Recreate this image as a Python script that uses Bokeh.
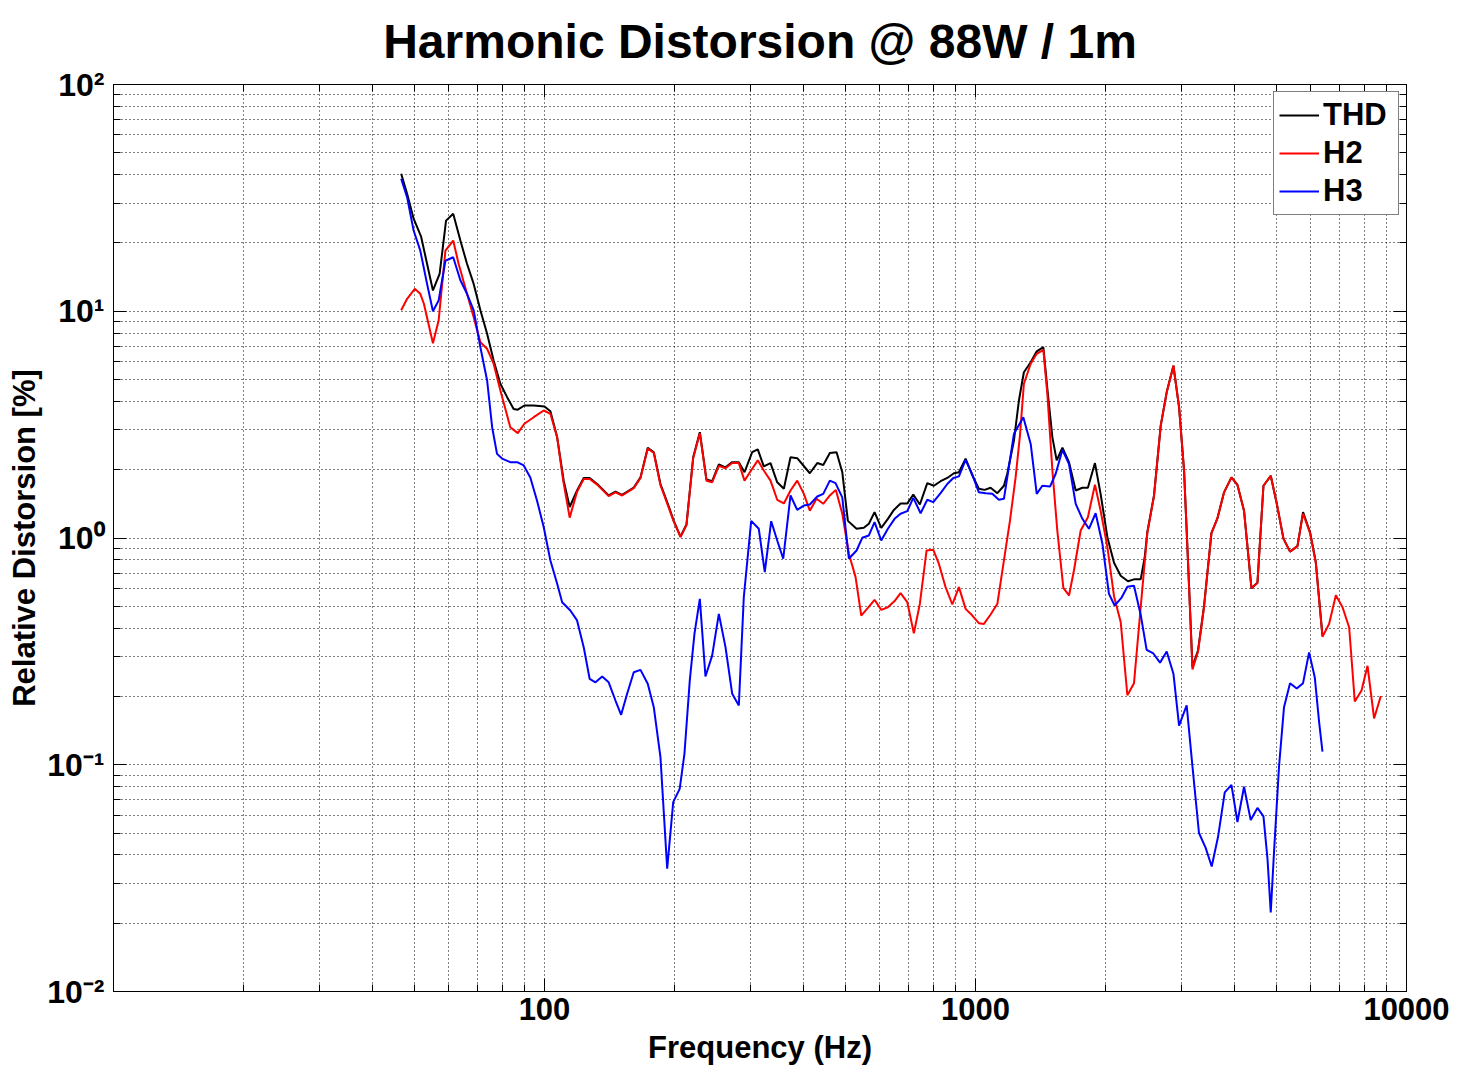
from bokeh.plotting import figure
from bokeh.models import FixedTicker, LogAxis, CustomJSTickFormatter, Legend, LegendItem
from bokeh.embed import file_html
from bokeh.resources import INLINE

# ---------------- data (frequency in Hz, distortion in %) ----------------
thd_freq = [46.5, 48.0, 49.7, 51.7, 55.1, 57.1, 59.1, 61.4, 63.8, 66.1,
            68.5, 71.0, 73.6, 76.2, 79.0, 81.9, 84.8, 86.7, 89.8, 94.4,
            100, 103.2, 107, 110.8, 114.4, 119, 123.3, 127.3, 132.5, 140.9,
            146.1, 151.4, 161.1, 167, 173.6, 179.3, 185.8, 192.6, 199.5, 206.8,
            213.5, 221.3, 229.3, 237.6, 244.9, 253.8, 263, 272.6, 282.4, 291.1,
            303.3, 312.5, 322.7, 334.5, 346.7, 359.2, 372.2, 385.8, 412.7, 429.4,
            443.4, 459.2, 476.1, 490.8, 505.7, 529.7, 550.7, 565.7, 583.2, 604.4,
            626.2, 646.6, 670.1, 694.6, 717.2, 742.9, 772.9, 800.6, 829.8, 860.1,
            891.2, 915.3, 948.5, 983.1, 1018, 1050, 1084, 1124, 1164, 1185,
            1228, 1261, 1295, 1343, 1387, 1437, 1468, 1508, 1543, 1591,
            1648, 1708, 1770, 1823, 1893, 1951, 2023, 2096, 2172, 2258,
            2332, 2417, 2469, 2504, 2595, 2690, 2777, 2879, 2967, 3047,
            3113, 3187, 3284, 3390, 3527, 3641, 3773, 3925, 4053, 4198,
            4368, 4510, 4657, 4842, 5000, 5182, 5368, 5585, 5754, 5974,
            6159, 6383]
thd_pct = [40.4, 33.0, 25.6, 21.4, 12.35, 14.6, 25.1, 26.9, 20.5, 16.2,
           13.2, 10.1, 7.95, 6.07, 4.79, 4.18, 3.71, 3.68, 3.84, 3.84,
           3.80, 3.62, 2.78, 1.79, 1.37, 1.62, 1.84, 1.84, 1.73, 1.54,
           1.60, 1.55, 1.67, 1.85, 2.50, 2.39, 1.73, 1.44, 1.19, 1.015,
           1.147, 2.27, 2.93, 1.81, 1.78, 2.11, 2.05, 2.16, 2.16, 1.95,
           2.39, 2.46, 2.07, 2.14, 1.76, 1.65, 2.27, 2.25, 1.93, 2.14,
           2.10, 2.37, 2.39, 1.95, 1.19, 1.098, 1.109, 1.155, 1.30, 1.109,
           1.215, 1.33, 1.42, 1.42, 1.555, 1.405, 1.745, 1.70, 1.78, 1.84,
           1.93, 1.95, 2.24, 1.89, 1.65, 1.63, 1.665, 1.576, 1.70, 1.92,
           2.69, 4.04, 5.38, 5.96, 6.66, 6.94, 4.55, 2.78, 2.20, 2.50,
           2.16, 1.62, 1.665, 1.665, 2.14, 1.566, 1.008, 0.778, 0.682, 0.645,
           0.657, 0.657, 0.82, 1.06, 1.54, 3.13, 4.39, 5.75, 3.78, 1.99,
           0.78, 0.27, 0.32, 0.50, 1.05, 1.22, 1.59, 1.85, 1.715, 1.32,
           0.60, 0.635, 1.70, 1.88, 1.42, 0.994, 0.871, 0.921, 1.30, 1.06,
           0.785, 0.37]

h2_freq = [46.5, 48.0, 50.0, 51.5, 52.5, 55.1, 56.8, 58.9, 61.4, 63.2,
           66.1, 68.5, 71.0, 73.6, 76.2, 79.0, 83.3, 86.7, 89.8, 94.4,
           99.6, 103.2, 107, 110.5, 114.4, 119, 123.3, 127.3, 132.5, 140.9,
           146.1, 151.4, 161.1, 167, 173.6, 179.3, 185.8, 192.6, 199.5, 206.8,
           213.5, 221.3, 229.3, 237.6, 244.9, 253.8, 263, 272.6, 282.4, 291.1,
           303.3, 312.5, 322.7, 334.5, 346.7, 359.2, 372.2, 385.8, 399.7, 412.7,
           427.8, 443.4, 459.2, 474.3, 490.8, 508.4, 526.9, 543.2, 562.8, 583.2,
           604.4, 626.2, 649, 670.1, 694.6, 719.5, 742.9, 770, 798.1, 822.2,
           852.3, 883.5, 915.3, 948.5, 983.1, 1018, 1046, 1084, 1124, 1164,
           1202, 1239, 1268, 1295, 1343, 1387, 1437, 1468, 1508, 1548,
           1599, 1648, 1692, 1754, 1823, 1893, 1951, 2023, 2096, 2172,
           2251, 2332, 2417, 2504, 2595, 2690, 2777, 2879, 2967, 3047,
           3113, 3187, 3284, 3390, 3527, 3641, 3773, 3925, 4053, 4198,
           4368, 4510, 4657, 4842, 5000, 5182, 5368, 5585, 5754, 5974,
           6159, 6383, 6613, 6856, 7105, 7362, 7586, 7864, 8120, 8410, 8718]
h2_pct = [10.1, 11.35, 12.56, 11.94, 10.79, 7.23, 9.10, 18.5, 20.5, 16.2,
          11.94, 9.41, 7.30, 6.83, 5.87, 4.47, 3.08, 2.90, 3.19, 3.41,
          3.65, 3.53, 2.78, 1.79, 1.23, 1.60, 1.82, 1.82, 1.72, 1.53,
          1.59, 1.54, 1.66, 1.84, 2.48, 2.37, 1.71, 1.42, 1.18, 1.01,
          1.14, 2.25, 2.90, 1.79, 1.76, 2.08, 2.03, 2.14, 2.14, 1.79,
          2.02, 2.20, 1.985, 1.79, 1.474, 1.42, 1.62, 1.79, 1.566, 1.32,
          1.49, 1.415, 1.54, 1.63, 1.28, 0.852, 0.672, 0.455, 0.492, 0.534,
          0.482, 0.495, 0.527, 0.571, 0.521, 0.380, 0.513, 0.881, 0.887, 0.770,
          0.607, 0.509, 0.607, 0.487, 0.455, 0.421, 0.418, 0.460, 0.513, 0.796,
          1.19, 1.85, 2.83, 4.79, 5.87, 6.49, 6.76, 4.32, 1.985, 1.079,
          0.603, 0.558, 0.719, 1.079, 1.235, 1.72, 1.32, 0.911, 0.554, 0.426,
          0.2025, 0.229, 0.495, 1.051, 1.53, 3.13, 4.39, 5.75, 3.78, 1.99,
          0.778, 0.263, 0.316, 0.495, 1.051, 1.22, 1.59, 1.85, 1.715, 1.317,
          0.602, 0.633, 1.70, 1.88, 1.42, 0.994, 0.871, 0.921, 1.28, 1.051,
          0.778, 0.367, 0.418, 0.559, 0.495, 0.403, 0.190, 0.2126, 0.273, 0.160, 0.201]

h3_freq = [46.5, 48.0, 49.7, 51.5, 53.4, 55.1, 56.8, 58.9, 61.4, 63.8,
           66.1, 68.5, 71.0, 73.6, 75.6, 77.6, 79.7, 83.3, 86.4, 89.5,
           92.7, 96.1, 99.6, 103.2, 107, 109.9, 114.8, 119, 123.3, 127.3,
           131.3, 136.1, 140.9, 146.1, 150.6, 155.5, 161.1, 167, 173.6, 179.3,
           185.8, 192.6, 198.9, 205.9, 211.2, 217.3, 222.8, 229.3, 236.3, 244.9,
           253.8, 263, 272.6, 282.4, 290, 301.7, 314.2, 324.4, 335.7, 346.7,
           358, 372.2, 385.8, 399.7, 412.7, 429.4, 443.4, 459.2, 473.4, 490.8,
           508.4, 529.7, 546.1, 565.7, 583.2, 604.4, 626.2, 649, 670.1, 694.6,
           717.2, 745.8, 772.9, 798.1, 829.8, 860.1, 888.3, 915.3, 948.5, 983.1,
           1018, 1056, 1094, 1133, 1164, 1185, 1228, 1291, 1343, 1387,
           1429, 1489, 1535, 1591, 1648, 1708, 1770, 1833, 1900, 1970,
           2040, 2103, 2180, 2251, 2332, 2417, 2495, 2586, 2680, 2777,
           2879, 2967, 3090, 3187, 3300, 3420, 3532, 3654, 3787, 3925,
           4053, 4198, 4351, 4510, 4657, 4759, 4842, 4928, 5061, 5198,
           5368, 5563, 5754, 5943, 6127, 6270, 6383]
h3_pct = [38.4, 31.8, 22.7, 18.5, 13.2, 10.0, 11.15, 16.7, 17.3, 13.7,
          11.94, 10.08, 6.94, 4.95, 3.08, 2.35, 2.24, 2.16, 2.16, 2.09,
          1.85, 1.46, 1.116, 0.796, 0.628, 0.521, 0.479, 0.433, 0.330, 0.239,
          0.231, 0.245, 0.231, 0.192, 0.166, 0.2055, 0.256, 0.262, 0.2275, 0.1794,
          0.108, 0.0348, 0.0684, 0.0783, 0.1118, 0.235, 0.378, 0.539, 0.245, 0.303,
          0.463, 0.330, 0.2055, 0.1826, 0.548, 1.19, 1.098, 0.707, 1.186, 0.975,
          0.81, 1.54, 1.33, 1.39, 1.405, 1.524, 1.566, 1.79, 1.745, 1.51,
          0.81, 0.881, 1.002, 1.026, 1.174, 0.975, 1.098, 1.215, 1.28, 1.313,
          1.504, 1.286, 1.474, 1.44, 1.576, 1.73, 1.84, 1.87, 2.21, 1.905,
          1.59, 1.576, 1.566, 1.474, 1.49, 1.85, 2.88, 3.41, 2.60, 1.566,
          1.70, 1.686, 1.92, 2.45, 2.12, 1.415, 1.215, 1.098, 1.286, 0.943,
          0.567, 0.504, 0.544, 0.609, 0.616, 0.459, 0.321, 0.3095, 0.282, 0.316,
          0.252, 0.1487, 0.183, 0.0983, 0.050, 0.043, 0.0356, 0.0481, 0.0755, 0.0815,
          0.0559, 0.080, 0.057, 0.0645, 0.0592, 0.0384, 0.0223, 0.0414, 0.0983, 0.1794,
          0.229, 0.2167, 0.229, 0.313, 0.2426, 0.1543, 0.1143]

x_major = [10, 100, 1000, 10000]
x_minor = [m * d for d in (10, 100, 1000) for m in range(2, 10)]
y_major = [0.01, 0.1, 1, 10, 100]
y_minor = [m * d for d in (0.01, 0.1, 1, 10) for m in range(2, 10)]

title_text = "Harmonic Distorsion @ 88W / 1m"
x_label = "Frequency (Hz)"
y_label = "Relative Distorsion [%]"
series_names = ["THD", "H2", "H3"]
series_colors = ["#000000", "#ff0000", "#0000ff"]

FONT = "Liberation Sans"

# ---------------- figure ----------------
p = figure(width=1467, height=1082, x_axis_type="log", y_axis_type="log",
           x_range=(10, 10000), y_range=(0.01, 100),
           output_backend="svg", toolbar_location=None,
           min_border_left=113, min_border_right=61,
           min_border_top=84, min_border_bottom=91)
p.background_fill_color = "white"
p.border_fill_color = "white"
p.outline_line_color = "black"
p.outline_line_width = 1

p.title.text = title_text
p.title.align = "center"
p.title.text_font = FONT
p.title.text_font_size = "48px"
p.title.text_font_style = "bold"
p.title.text_color = "black"
p.title.standoff = 25

xticker = FixedTicker(ticks=x_major, minor_ticks=x_minor)
yticker = FixedTicker(ticks=y_major, minor_ticks=y_minor)

xfmt = CustomJSTickFormatter(code="return tick < 50 ? ' ' : Math.round(tick).toString();")
yfmt = CustomJSTickFormatter(code=r"""
const e = Math.round(Math.log10(tick));
const m = {'-': '\u207b', '0': '\u2070', '1': '\u00b9', '2': '\u00b2'};
return '10' + String(e).split('').map(c => m[c]).join('');
""")
blank = CustomJSTickFormatter(code="return ' ';")

xa = p.xaxis[0]
ya = p.yaxis[0]
xa.ticker = xticker
ya.ticker = yticker
xa.formatter = xfmt
ya.formatter = yfmt
p.xgrid.ticker = xticker
p.ygrid.ticker = yticker

top = LogAxis(ticker=xticker, formatter=blank, major_label_text_font_size="1px",
              major_label_standoff=0)
right = LogAxis(ticker=yticker, formatter=blank, major_label_text_font_size="1px",
                major_label_standoff=0)
p.add_layout(top, "above")
p.add_layout(right, "right")

for ax in (xa, ya, top, right):
    ax.major_tick_in = 13
    ax.major_tick_out = 0
    ax.minor_tick_in = 7
    ax.minor_tick_out = 0
    ax.axis_line_color = "black"
    ax.major_tick_line_color = "black"
    ax.minor_tick_line_color = "black"

for ax in (xa, ya):
    ax.major_label_text_font = FONT
    ax.major_label_text_font_style = "bold"
    ax.major_label_text_color = "black"
    ax.axis_label_text_font = FONT
    ax.axis_label_text_font_style = "bold"
    ax.axis_label_text_font_size = "31px"
    ax.axis_label_text_color = "black"

xa.major_label_text_font_size = "31px"
xa.major_label_standoff = 0
xa.axis_label = x_label
xa.axis_label_standoff = 0

ya.major_label_text_font_size = "32px"
ya.major_label_standoff = 9
ya.axis_label = y_label
ya.axis_label_standoff = 2

for g in (p.xgrid, p.ygrid):
    g.grid_line_color = "black"
    g.grid_line_dash = "1 3"
    g.grid_line_width = 1
    g.minor_grid_line_color = "black"
    g.minor_grid_line_dash = "1 3"
    g.minor_grid_line_width = 1

# ---------------- lines ----------------
r_thd = p.line(thd_freq, thd_pct, line_color=series_colors[0], line_width=2)
r_h2 = p.line(h2_freq, h2_pct, line_color=series_colors[1], line_width=2)
r_h3 = p.line(h3_freq, h3_pct, line_color=series_colors[2], line_width=2)

legend = Legend(items=[LegendItem(label=series_names[0], renderers=[r_thd]),
                       LegendItem(label=series_names[1], renderers=[r_h2]),
                       LegendItem(label=series_names[2], renderers=[r_h3])],
                location="top_right")
legend.margin = 7
legend.padding = 5
legend.spacing = 2
legend.glyph_width = 40
legend.glyph_height = 34
legend.label_height = 34
legend.label_width = 70
legend.label_standoff = 4
legend.label_text_font = FONT
legend.label_text_font_size = "31px"
legend.label_text_font_style = "bold"
legend.label_text_color = "black"
legend.border_line_color = "black"
legend.border_line_width = 1
legend.background_fill_color = "white"
legend.background_fill_alpha = 1
p.add_layout(legend)

with open("out.html", "w", encoding="utf-8") as f:
    f.write(file_html(p, INLINE))
